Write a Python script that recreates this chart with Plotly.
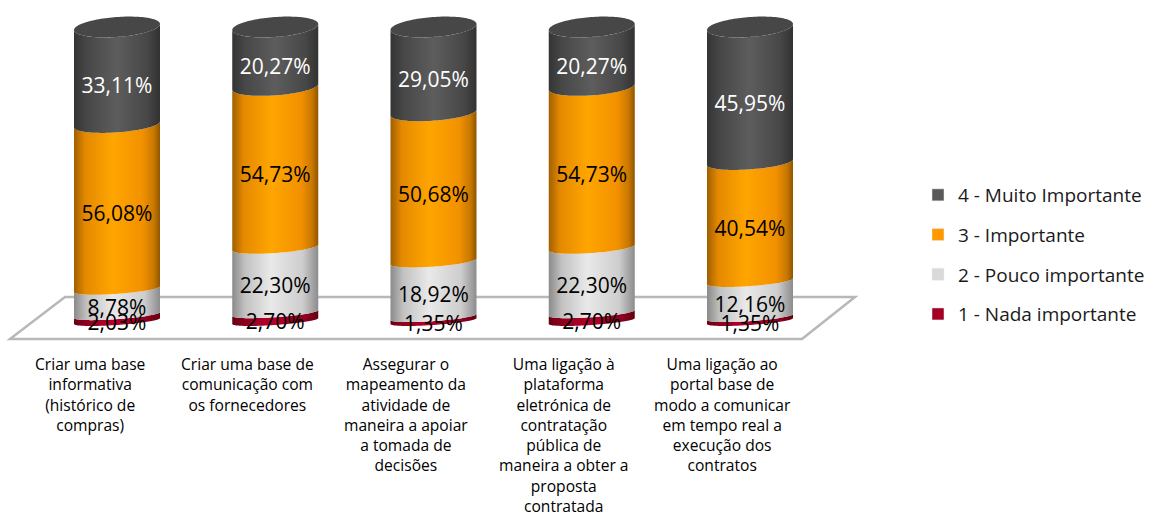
import numpy as np
import plotly.graph_objects as go

# ---- data -------------------------------------------------------------
categories = [
    "Criar uma base<br>informativa<br>(histórico de<br>compras)",
    "Criar uma base de<br>comunicação com<br>os fornecedores",
    "Assegurar o<br>mapeamento da<br>atividade de<br>maneira a apoiar<br>a tomada de<br>decisões",
    "Uma ligação à<br>plataforma<br>eletrónica de<br>contratação<br>pública de<br>maneira a obter a<br>proposta<br>contratada",
    "Uma ligação ao<br>portal base de<br>modo a comunicar<br>em tempo real a<br>execução dos<br>contratos",
]
series_names = ["1 - Nada importante", "2 - Pouco importante",
                "3 - Importante", "4 - Muito Importante"]
nada = [2.03, 2.70, 1.35, 2.70, 1.35]
pouco = [8.78, 22.30, 18.92, 22.30, 12.16]
importante = [56.08, 54.73, 50.68, 54.73, 40.54]
muito = [33.11, 20.27, 29.05, 20.27, 45.95]
series_values = [nada, pouco, importante, muito]

# ---- styling ----------------------------------------------------------
legend_colors = ["#a50021", "#d9d9d9", "#ff9900", "#595959"]
shade_scales = [
    [[0, "#66000f"], [0.15, "#8e001f"], [0.45, "#b5002b"], [0.85, "#8e001f"], [1, "#62000f"]],
    [[0, "#8a8a8a"], [0.15, "#c2c2c2"], [0.45, "#e9e9e9"], [0.82, "#cdcdcd"], [1, "#8c8c8c"]],
    [[0, "#a05f00"], [0.13, "#e48900"], [0.45, "#ffa500"], [0.8, "#f29100"], [0.93, "#c77700"], [1, "#8f5500"]],
    [[0, "#343434"], [0.15, "#474747"], [0.5, "#5d5d5d"], [0.85, "#474747"], [1, "#323232"]],
]
label_colors = ["#000000", "#000000", "#000000", "#ffffff"]
cap_color = "#474747"
FONT = "Open Sans"

W, H = 1155, 513
# pixel geometry of the 3-D frame
X0, DX = 117.0, 158.25          # centre of first cylinder, spacing
Y0, KY = 321.0, 2.94            # pixel row of 0 %, pixels per %
RX = 43.0                        # cylinder half width (px)
TILT = 3.0                       # perspective tilt of the ellipses (px)


def ry(v):
    """vertical half-axis of a cross-section ellipse at level v (px)"""
    return 4.0 + 6.0 * v / 100.0


def ellipse(i, v, th):
    xs = i + RX * np.cos(th) / DX
    ys = v - (ry(v) * np.sin(th) - TILT * np.cos(th)) / KY
    return xs, ys


fig = go.Figure()

front_lr = np.linspace(np.pi, 0, 60)
front_rl = np.linspace(0, np.pi, 60)

for i in range(len(categories)):
    base = 0.0
    for s, vals in enumerate(series_values):
        top = base + vals[i]
        xa, ya = ellipse(i, top, front_lr)
        xb, yb = ellipse(i, base, front_rl)
        fig.add_trace(go.Scatter(
            x=np.concatenate([xa, xb, xa[:1]]),
            y=np.concatenate([ya, yb, ya[:1]]),
            mode="none", fill="toself",
            fillgradient=dict(type="horizontal", colorscale=shade_scales[s]),
            showlegend=False, hoverinfo="skip"))
        base = top
    # top cap
    th = np.linspace(0, 2 * np.pi, 120)
    xc, yc = ellipse(i, base, th)
    fig.add_trace(go.Scatter(x=xc, y=yc, mode="none", fill="toself",
                             fillcolor=cap_color, showlegend=False,
                             hoverinfo="skip"))

# value labels on the front face of each segment
for s, vals in enumerate(series_values):
    lower = [sum(series_values[k][i] for k in range(s)) for i in range(len(vals))]
    mids = [lo + v / 2 for lo, v in zip(lower, vals)]
    ys = [m - (ry(m) + 3.0) / KY for m in mids]
    fig.add_trace(go.Scatter(
        x=list(range(len(vals))), y=ys, mode="text",
        text=[f"{v:.2f}%".replace(".", ",") for v in vals],
        textposition="middle center",
        textfont=dict(family=FONT, size=21, color=label_colors[s]),
        showlegend=False, hoverinfo="skip"))

# legend entries
for s, name in enumerate(series_names):
    fig.add_trace(go.Bar(x=[None], y=[None], name=name,
                         marker_color=legend_colors[s],
                         legendgroup=name, legendrank=100 - s))

# category labels under the floor front edge
for i, lab in enumerate(categories):
    fig.add_annotation(x=i - 27.5 / DX, y=1 - 350.5 / H, xref="x", yref="paper",
                       text=lab, showarrow=False, xanchor="center",
                       yanchor="top", align="center",
                       font=dict(family=FONT, size=15.6, color="#000000"))

# floor of the 3-D frame
floor = [(65, 297), (855, 297), (802, 339), (10, 339)]
path = "M " + " L ".join(f"{x / W:.5f},{1 - y / H:.5f}" for x, y in floor) + " Z"
fig.add_shape(type="path", path=path, xref="paper", yref="paper",
              line=dict(color="#b8b8b8", width=2.5), fillcolor="white",
              layer="below")

fig.update_layout(
    width=W, height=H,
    margin=dict(l=0, r=0, t=0, b=0),
    paper_bgcolor="white", plot_bgcolor="white",
    hovermode=False,
    xaxis=dict(type="linear", range=[-X0 / DX, (W - X0) / DX],
               visible=False, fixedrange=True),
    yaxis=dict(range=[(Y0 - H) / KY, Y0 / KY], visible=False,
               fixedrange=True),
    legend=dict(x=918 / W, y=1 - 176 / H, xanchor="left", yanchor="top",
                traceorder="grouped", tracegroupgap=12,
                font=dict(family=FONT, size=19, color="#1a1a1a"),
                bgcolor="rgba(0,0,0,0)"),
    showlegend=True,
)

fig.write_html("out.html")
